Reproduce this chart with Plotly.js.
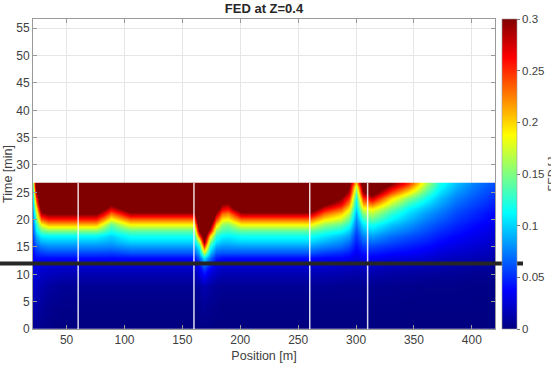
<!DOCTYPE html>
<html>
<head>
<meta charset="utf-8">
<script src="https://cdn.plot.ly/plotly-3.0.1.min.js"></script>
<style>html,body{margin:0;padding:0;background:#fff;}#chart{width:551px;height:365px;}</style>
</head>
<body>
<div id="chart"></div>
<script>
// Positions along the route [m] (one column of FED values per position)
const positions = [20, 24, 28, 34, 45, 60, 75, 82, 88, 95, 105, 120, 140, 155, 160, 164, 169, 174, 179, 184, 189, 195, 201, 215, 235, 260, 272, 287, 294, 300, 306, 314, 330, 345, 360, 372, 386, 401, 420];
// Time samples [min]
const times = [0, 4, 8, 10, 11, 12, 13, 14, 15, 16, 17, 18, 19, 20, 21, 22, 23, 24, 25, 26, 26.5];
// FED, one profile (over times) per position
const fedByPosition = [
  [.006,.015,.022,.026,.028,.03,.033,.036,.04,.043,.047,.05,.053,.057,.06,.064,.068,.072,.077,.085,.09],
  [.005,.012,.02,.025,.028,.033,.04,.05,.062,.075,.09,.105,.12,.14,.16,.185,.215,.25,.29,.33,.35],
  [.004,.008,.014,.02,.024,.03,.04,.055,.072,.09,.11,.14,.18,.23,.28,.32,.36,.37,.37,.37,.37],
  [.002,.005,.01,.018,.022,.029,.04,.058,.077,.093,.113,.15,.205,.25,.3,.34,.37,.37,.37,.37,.37],
  [0,.003,.007,.015,.02,.028,.04,.058,.077,.093,.113,.15,.205,.25,.3,.34,.37,.37,.37,.37,.37],
  [0,.002,.006,.014,.02,.028,.04,.058,.077,.093,.113,.15,.205,.25,.3,.34,.37,.37,.37,.37,.37],
  [0,.002,.006,.014,.02,.028,.04,.058,.077,.093,.113,.15,.205,.25,.3,.34,.37,.37,.37,.37,.37],
  [0,.002,.006,.014,.02,.028,.04,.057,.076,.09,.106,.135,.17,.215,.265,.305,.34,.37,.37,.37,.37],
  [0,.002,.006,.014,.02,.028,.039,.056,.075,.088,.1,.12,.14,.18,.228,.27,.31,.35,.37,.37,.37],
  [0,.002,.006,.014,.02,.028,.04,.058,.078,.094,.108,.13,.16,.2,.25,.295,.335,.37,.37,.37,.37],
  [0,.002,.006,.014,.02,.028,.04,.062,.082,.1,.117,.14,.185,.227,.285,.33,.37,.37,.37,.37,.37],
  [0,.002,.006,.014,.02,.028,.04,.062,.082,.1,.117,.14,.185,.227,.285,.33,.37,.37,.37,.37,.37],
  [0,.002,.006,.014,.02,.028,.04,.062,.082,.1,.117,.14,.185,.227,.285,.33,.37,.37,.37,.37,.37],
  [0,.002,.006,.014,.02,.028,.04,.062,.082,.1,.117,.14,.185,.227,.285,.33,.37,.37,.37,.37,.37],
  [0,.002,.006,.014,.02,.028,.04,.062,.082,.1,.117,.14,.185,.227,.285,.33,.37,.37,.37,.37,.37],
  [.001,.004,.01,.025,.032,.045,.065,.09,.115,.16,.24,.3,.34,.37,.37,.37,.37,.37,.37,.37,.37],
  [.002,.006,.015,.04,.055,.075,.105,.17,.24,.3,.34,.37,.37,.37,.37,.37,.37,.37,.37,.37,.37],
  [.001,.004,.01,.025,.035,.05,.07,.095,.12,.15,.2,.27,.32,.36,.37,.37,.37,.37,.37,.37,.37],
  [0,.003,.007,.018,.024,.032,.045,.065,.085,.105,.125,.155,.2,.245,.29,.33,.37,.37,.37,.37,.37],
  [0,.002,.006,.014,.02,.029,.041,.062,.08,.096,.112,.133,.155,.19,.23,.27,.3,.34,.37,.37,.37],
  [0,.002,.006,.014,.02,.028,.04,.062,.08,.095,.11,.13,.15,.185,.222,.26,.295,.33,.36,.37,.37],
  [0,.002,.006,.014,.02,.028,.04,.062,.081,.098,.113,.135,.165,.205,.25,.3,.34,.37,.37,.37,.37],
  [0,.002,.006,.014,.02,.028,.04,.062,.082,.1,.117,.14,.185,.227,.285,.33,.37,.37,.37,.37,.37],
  [0,.002,.006,.014,.02,.028,.04,.062,.082,.1,.117,.14,.185,.227,.285,.33,.37,.37,.37,.37,.37],
  [0,.002,.006,.014,.02,.028,.04,.062,.082,.1,.117,.14,.185,.227,.285,.33,.37,.37,.37,.37,.37],
  [0,.002,.006,.014,.02,.028,.04,.062,.082,.1,.117,.14,.185,.227,.285,.33,.37,.37,.37,.37,.37],
  [0,.002,.006,.014,.02,.027,.038,.055,.075,.09,.107,.127,.155,.19,.23,.27,.31,.35,.37,.37,.37],
  [0,.002,.005,.013,.018,.025,.038,.05,.068,.08,.095,.115,.14,.17,.2,.235,.27,.3,.33,.36,.37],
  [0,.002,.005,.012,.017,.024,.034,.045,.058,.07,.085,.1,.12,.14,.165,.19,.22,.25,.28,.3,.31],
  [0,.002,.005,.011,.016,.022,.028,.034,.04,.046,.052,.06,.07,.077,.088,.1,.11,.12,.14,.17,.2],
  [0,.002,.005,.012,.017,.024,.032,.042,.053,.064,.077,.09,.105,.125,.15,.18,.215,.25,.29,.32,.34],
  [0,.002,.005,.012,.017,.025,.035,.045,.057,.07,.085,.1,.117,.14,.165,.19,.23,.28,.32,.35,.36],
  [0,.002,.004,.01,.014,.022,.03,.04,.05,.06,.07,.082,.095,.11,.125,.145,.17,.2,.24,.28,.3],
  [0,.001,.004,.009,.013,.02,.028,.037,.045,.053,.062,.072,.082,.092,.102,.112,.13,.155,.19,.23,.25],
  [0,.001,.003,.008,.012,.018,.025,.032,.039,.046,.053,.06,.067,.075,.083,.092,.103,.118,.135,.155,.165],
  [0,.001,.003,.007,.011,.016,.021,.027,.033,.039,.045,.051,.058,.065,.072,.079,.087,.095,.105,.115,.12],
  [0,.001,.003,.006,.009,.014,.018,.023,.028,.033,.038,.043,.048,.053,.058,.063,.069,.075,.082,.09,.094],
  [0,.001,.002,.005,.008,.012,.016,.02,.024,.028,.032,.036,.04,.045,.049,.053,.058,.063,.068,.073,.076],
  [0,.001,.002,.005,.007,.01,.013,.016,.019,.022,.025,.028,.031,.035,.038,.042,.046,.05,.054,.058,.06]
];
// White vertical marker positions [m] and the horizontal time marker [min]
const markerPositions = [60, 160, 260, 310];
const dataTopTime = 26.7;
const thresholdTime = 12;
const xTicks = [50, 100, 150, 200, 250, 300, 350, 400];
const yTicks = [0, 5, 10, 15, 20, 25, 30, 35, 40, 45, 50, 55];
const cbTicks = [0, 0.05, 0.1, 0.15, 0.2, 0.25, 0.3];
const cbTickText = ['0', '0.05', '0.1', '0.15', '0.2', '0.25', '0.3'];

const jet = [[0,'rgb(0,0,128)'],[0.125,'rgb(0,0,255)'],[0.375,'rgb(0,255,255)'],[0.625,'rgb(255,255,0)'],[0.875,'rgb(255,0,0)'],[1,'rgb(128,0,0)']];
const FONT = 'Liberation Sans, Arial, Helvetica, sans-serif';

const trace = {
  type: 'heatmap', x: positions, y: times, z: fedByPosition, transpose: true,
  zsmooth: 'best', zmin: 0, zmax: 0.3, colorscale: jet, hoverinfo: 'skip',
  colorbar: {
    x: 1.015, xanchor: 'left', xpad: 0, ypad: 0, y: 0.5, yanchor: 'middle',
    len: 1, lenmode: 'fraction', thickness: 15, thicknessmode: 'pixels',
    outlinecolor: '#9a9a9a', outlinewidth: 0.6,
    tickvals: cbTicks, ticktext: cbTickText, ticks: 'outside', ticklen: 3, tickcolor: '#777',
    tickfont: {family: FONT, size: 11.5, color: '#404040'},
    title: {text: 'FED [-]', side: 'right', font: {family: FONT, size: 11, color: '#404040'}}
  }
};

const shapes = markerPositions.map(p => ({
  type: 'line', xref: 'x', yref: 'y', x0: p, x1: p, y0: 0, y1: dataTopTime,
  line: {color: 'rgba(255,255,255,0.85)', width: 1.5}, layer: 'above'
}));
const yRange = [0, 56.7];
shapes.push({
  type: 'line', xref: 'paper', yref: 'paper', x0: -0.0714, x1: 1.0606,
  y0: (thresholdTime - yRange[0]) / (yRange[1] - yRange[0]),
  y1: (thresholdTime - yRange[0]) / (yRange[1] - yRange[0]),
  line: {color: '#262626', width: 4}, layer: 'above'
});

const axisCommon = {
  showline: true, linecolor: '#9a9a9a', linewidth: 1, mirror: 'ticks',
  ticks: 'inside', ticklen: 4, tickcolor: '#9a9a9a',
  showgrid: true, gridcolor: '#e6e6e6', gridwidth: 1, zeroline: false,
  tickfont: {family: FONT, size: 12, color: '#404040'}
};

const layout = {
  width: 551, height: 365,
  margin: {l: 33, r: 56, t: 19, b: 36, autoexpand: false},
  paper_bgcolor: '#fff', plot_bgcolor: '#fff',
  font: {family: FONT, color: '#404040'},
  title: {text: '<b>FED at Z=0.4</b>', x: 0.5, xref: 'paper', xanchor: 'center', y: 0.978, yref: 'container', yanchor: 'middle',
          font: {family: FONT, size: 13, color: '#262626'}},
  xaxis: Object.assign({}, axisCommon, {range: [21, 420], tickvals: xTicks,
          title: {text: 'Position [m]', font: {family: FONT, size: 12.5, color: '#404040'}, standoff: 4}}),
  yaxis: Object.assign({}, axisCommon, {range: yRange, tickvals: yTicks,
          title: {text: 'Time [min]', font: {family: FONT, size: 12.5, color: '#404040'}, standoff: 0}}),
  shapes: shapes,
  showlegend: false
};

Plotly.newPlot('chart', [trace], layout, {staticPlot: true, displayModeBar: false});
</script>
</body>
</html>
